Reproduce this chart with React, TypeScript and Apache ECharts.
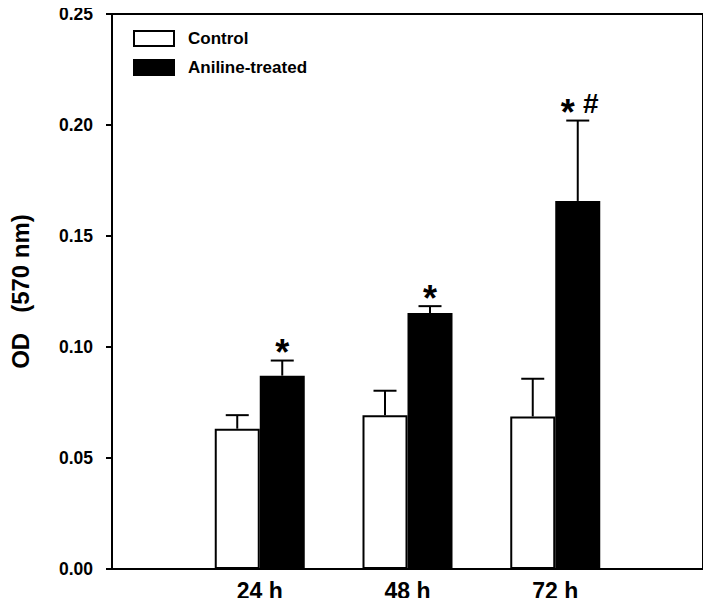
import React, { useEffect, useRef } from "react";
import * as echarts from "echarts";

const categories = ["", "24 h", "48 h", "72 h", ""];
const controlMean = [null, 0.0632, 0.0693, 0.0687, null];
const controlSD = [null, 0.0061, 0.011, 0.017, null];
const anilineMean = [null, 0.0871, 0.1153, 0.1658, null];
const anilineSD = [null, 0.0068, 0.0031, 0.0362, null];
const anilineMarks = ["", "*", "*", "*#", ""];
const yTicks = { min: 0, max: 0.25, interval: 0.05 };
const seriesNames = ["Control", "Aniline-treated"];

const FONT = "'Liberation Sans', Arial, sans-serif";
const BAR_W = 45;

function errData(mean: (number | null)[], sd: (number | null)[], marks?: string[]) {
  const out: any[] = [];
  mean.forEach((m, i) => {
    if (m == null || sd[i] == null) return;
    out.push([i, m, m + (sd[i] as number), marks ? marks[i] : ""]);
  });
  return out;
}

function makeRender(offset: number) {
  return (params: any, api: any) => {
    const x = api.value(0);
    const lo = api.coord([x, api.value(1)]);
    const hi = api.coord([x, api.value(2)]);
    const mark = String(api.value(3) || "");
    const cx = lo[0] + offset;
    const children: any[] = [
      { type: "line", shape: { x1: cx, y1: lo[1], x2: cx, y2: hi[1] }, style: { stroke: "#000", lineWidth: 2 } },
      { type: "line", shape: { x1: cx - 11.5, y1: hi[1], x2: cx + 11.5, y2: hi[1] }, style: { stroke: "#000", lineWidth: 2 } },
    ];
    const chars = mark.split("");
    chars.forEach((ch, k) => {
      const dx = chars.length > 1 ? (k === 0 ? -10 : 13) : 0;
      const isStar = ch === "*";
      const size = isStar ? 36 : 28;
      children.push({
        type: "text",
        x: cx + dx,
        y: isStar ? hi[1] - 16 + 0.22 * size : hi[1] - 17,
        style: {
          text: ch,
          font: `bold ${size}px ${FONT}`,
          fill: "#000",
          align: "center",
          verticalAlign: "middle",
        },
      });
    });
    return { type: "group", children };
  };
}

export default function App() {
  const ref = useRef<HTMLDivElement>(null);
  useEffect(() => {
    if (!ref.current) return;
    const chart = echarts.init(ref.current, null, { renderer: "svg" });
    chart.setOption({
      animation: false,
      backgroundColor: "#fff",
      grid: {
        left: 110,
        right: 8,
        top: 14,
        bottom: 37,
        show: true,
        borderColor: "#000",
        borderWidth: 2,
        backgroundColor: "transparent",
      },
      legend: {
        orient: "vertical",
        left: 128,
        top: 25,
        itemWidth: 40,
        itemHeight: 15,
        itemGap: 12,
        icon: "rect",
        data: seriesNames,
        textStyle: {
          fontFamily: FONT,
          fontWeight: "bold",
          fontSize: 17,
          color: "#000",
          lineHeight: 15,
          padding: [0, 0, 0, 9],
        },
      },
      xAxis: {
        type: "category",
        data: categories,
        boundaryGap: false,
        axisLine: { lineStyle: { color: "#000", width: 2 } },
        axisTick: { show: false },
        axisLabel: {
          interval: 0,
          margin: 10,
          fontFamily: FONT,
          fontWeight: "bold",
          fontSize: 23,
          color: "#000",
        },
        splitLine: { show: false },
      },
      yAxis: {
        type: "value",
        min: yTicks.min,
        max: yTicks.max,
        interval: yTicks.interval,
        name: "OD   (570 nm)",
        nameLocation: "middle",
        nameGap: 80,
        nameTextStyle: { fontFamily: FONT, fontWeight: "bold", fontSize: 24, color: "#000" },
        axisLine: { show: true, lineStyle: { color: "#000", width: 2 } },
        axisTick: { show: true, length: 6, lineStyle: { color: "#000", width: 2 } },
        axisLabel: {
          margin: 19,
          fontFamily: FONT,
          fontWeight: "bold",
          fontSize: 17.5,
          color: "#000",
          formatter: (v: number) => v.toFixed(2),
        },
        splitLine: { show: false },
      },
      series: [
        {
          name: seriesNames[0],
          type: "bar",
          data: controlMean,
          barWidth: BAR_W,
          barGap: "0%",
          itemStyle: { color: "#fff", borderColor: "#000", borderWidth: 2 },
        },
        {
          name: seriesNames[1],
          type: "bar",
          data: anilineMean,
          barWidth: BAR_W,
          barGap: "0%",
          itemStyle: { color: "#000", borderColor: "#000", borderWidth: 2 },
        },
        {
          type: "custom",
          renderItem: makeRender(-BAR_W / 2),
          data: errData(controlMean, controlSD),
          encode: { x: 0, y: [1, 2] },
          z: 5,
        },
        {
          type: "custom",
          renderItem: makeRender(BAR_W / 2),
          data: errData(anilineMean, anilineSD, anilineMarks),
          encode: { x: 0, y: [1, 2] },
          z: 5,
        },
      ],
    });
    return () => chart.dispose();
  }, []);
  return <div ref={ref} style={{ width: 711, height: 606, margin: -8 }} />;
}
